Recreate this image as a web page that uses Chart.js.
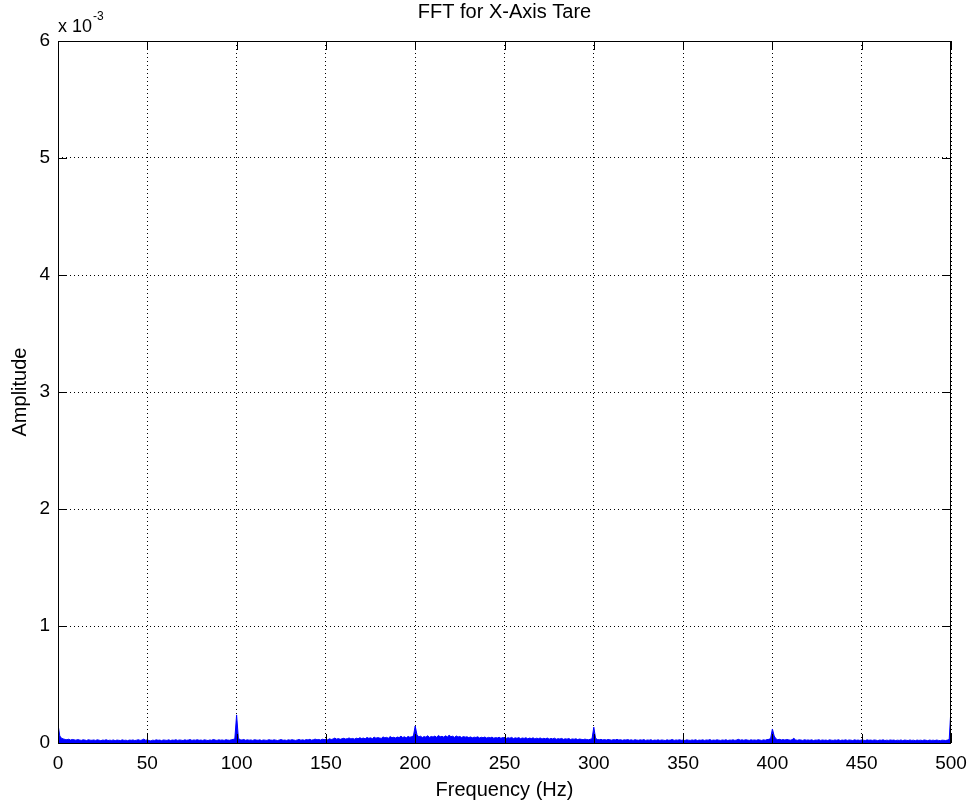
<!DOCTYPE html>
<html>
<head>
<meta charset="utf-8">
<script src="https://cdn.jsdelivr.net/npm/chart.js@4"></script>
<style>
  body { margin: 0; background: #fff; }
  canvas { display: block; }
</style>
</head>
<body>
<canvas id="fftChart" width="972" height="805"></canvas>
<script>
// amplitude in units of 1e-3, one value per Hz from 0 to 500
const amplitude = [
  0.16, 0.06, 0.04, 0.035, 0.03, 0.028, 0.032, 0.025, 0.03, 0.027,
  0.024, 0.029, 0.026, 0.022, 0.027, 0.025, 0.021, 0.028, 0.024, 0.023,
  0.026, 0.022, 0.027, 0.024, 0.02, 0.025, 0.023, 0.028, 0.021, 0.024,
  0.022, 0.026, 0.02, 0.025, 0.023, 0.021, 0.027, 0.022, 0.024, 0.02,
  0.025, 0.023, 0.026, 0.021, 0.024, 0.028, 0.022, 0.025, 0.033, 0.024,
  0.026, 0.021, 0.018, 0.024, 0.022, 0.027, 0.023, 0.025, 0.02, 0.026,
  0.024, 0.022, 0.027, 0.021, 0.025, 0.023, 0.028, 0.022, 0.026, 0.024,
  0.021, 0.027, 0.023, 0.025, 0.029, 0.022, 0.026, 0.024, 0.028, 0.023,
  0.025, 0.022, 0.027, 0.024, 0.021, 0.026, 0.023, 0.03, 0.025, 0.022,
  0.027, 0.024, 0.026, 0.022, 0.028, 0.025, 0.023, 0.027, 0.03, 0.035,
  0.24, 0.04, 0.028, 0.025, 0.03, 0.023, 0.027, 0.024, 0.026, 0.022,
  0.028, 0.025, 0.023, 0.027, 0.021, 0.026, 0.024, 0.022, 0.028, 0.025,
  0.023, 0.027, 0.024, 0.021, 0.026, 0.029, 0.023, 0.025, 0.022, 0.027,
  0.024, 0.028, 0.025, 0.022, 0.026, 0.03, 0.024, 0.027, 0.023, 0.029,
  0.026, 0.031, 0.024, 0.028, 0.033, 0.027, 0.03, 0.025, 0.032, 0.029,
  0.031, 0.027, 0.036, 0.03, 0.034, 0.042, 0.033, 0.038, 0.031, 0.036,
  0.04, 0.034, 0.037, 0.043, 0.035, 0.039, 0.033, 0.041, 0.036, 0.045,
  0.038, 0.042, 0.036, 0.047, 0.04, 0.044, 0.037, 0.05, 0.041, 0.046,
  0.043, 0.039, 0.052, 0.044, 0.048, 0.041, 0.055, 0.045, 0.049, 0.043,
  0.051, 0.046, 0.058, 0.047, 0.053, 0.044, 0.056, 0.049, 0.054, 0.06,
  0.145, 0.07, 0.052, 0.058, 0.047, 0.055, 0.05, 0.062, 0.048, 0.056,
  0.051, 0.059, 0.049, 0.064, 0.053, 0.057, 0.05, 0.061, 0.052, 0.066,
  0.054, 0.058, 0.048, 0.06, 0.051, 0.056, 0.047, 0.055, 0.05, 0.053,
  0.046, 0.052, 0.044, 0.05, 0.047, 0.053, 0.043, 0.049, 0.045, 0.051,
  0.042, 0.048, 0.044, 0.05, 0.041, 0.046, 0.043, 0.049, 0.04, 0.047,
  0.043, 0.039, 0.045, 0.041, 0.048, 0.038, 0.044, 0.04, 0.046, 0.037,
  0.043, 0.039, 0.045, 0.036, 0.042, 0.038, 0.044, 0.035, 0.041, 0.037,
  0.043, 0.034, 0.04, 0.036, 0.042, 0.033, 0.039, 0.035, 0.041, 0.032,
  0.037, 0.034, 0.039, 0.031, 0.036, 0.033, 0.038, 0.03, 0.035, 0.032,
  0.036, 0.029, 0.034, 0.031, 0.028, 0.033, 0.03, 0.027, 0.032, 0.035,
  0.135, 0.04, 0.03, 0.027, 0.031, 0.026, 0.029, 0.025, 0.03, 0.027,
  0.024, 0.029, 0.026, 0.031, 0.025, 0.028, 0.023, 0.027, 0.025, 0.029,
  0.024, 0.027, 0.022, 0.028, 0.025, 0.023, 0.027, 0.024, 0.029, 0.022,
  0.026, 0.024, 0.028, 0.021, 0.025, 0.023, 0.027, 0.022, 0.026, 0.024,
  0.021, 0.027, 0.023, 0.025, 0.03, 0.022, 0.026, 0.024, 0.028, 0.023,
  0.025, 0.021, 0.027, 0.024, 0.022, 0.026, 0.023, 0.028, 0.021, 0.025,
  0.023, 0.027, 0.022, 0.026, 0.024, 0.029, 0.022, 0.025, 0.023, 0.027,
  0.024, 0.022, 0.026, 0.023, 0.028, 0.021, 0.025, 0.024, 0.027, 0.022,
  0.026, 0.031, 0.024, 0.027, 0.023, 0.028, 0.025, 0.022, 0.027, 0.024,
  0.026, 0.023, 0.028, 0.025, 0.022, 0.027, 0.024, 0.029, 0.031, 0.038,
  0.12, 0.06, 0.035, 0.028, 0.031, 0.026, 0.029, 0.025, 0.03, 0.027,
  0.024, 0.028, 0.04, 0.026, 0.023, 0.027, 0.025, 0.022, 0.028, 0.024,
  0.026, 0.023, 0.027, 0.021, 0.025, 0.024, 0.028, 0.022, 0.026, 0.023,
  0.025, 0.021, 0.027, 0.024, 0.022, 0.026, 0.023, 0.028, 0.021, 0.025,
  0.023, 0.027, 0.022, 0.026, 0.024, 0.021, 0.027, 0.023, 0.025, 0.022,
  0.026, 0.024, 0.021, 0.027, 0.023, 0.025, 0.022, 0.026, 0.024, 0.02,
  0.025, 0.023, 0.027, 0.021, 0.024, 0.022, 0.026, 0.023, 0.025, 0.021,
  0.024, 0.022, 0.026, 0.02, 0.025, 0.023, 0.021, 0.026, 0.022, 0.024,
  0.02, 0.025, 0.022, 0.024, 0.021, 0.026, 0.023, 0.02, 0.025, 0.022,
  0.024, 0.021, 0.025, 0.022, 0.02, 0.024, 0.023, 0.021, 0.025, 0.03,
  0.30
];
const freqStart = 0;   // Hz
const freqStep = 1;    // Hz per sample
const xTicks = [0, 50, 100, 150, 200, 250, 300, 350, 400, 450, 500];
const yTicks = [0, 1, 2, 3, 4, 5, 6];

const FONT = "'Liberation Sans', Arial, Helvetica, sans-serif";

const points = amplitude.map((a, i) => ({ x: freqStart + i * freqStep, y: a }));

// matlab style box, inward ticks and the text outside the axes
const matlabFrame = {
    id: "matlabFrame",
    beforeDraw(chart) {
        const ctx = chart.ctx;
        ctx.save();
        ctx.fillStyle = "#fff";
        ctx.fillRect(0, 0, chart.width, chart.height);
        ctx.restore();
    },
    afterDraw(chart) {
        const ctx = chart.ctx;
        const a = chart.chartArea;
        const xs = chart.scales.x;
        const ys = chart.scales.y;
        ctx.save();
        ctx.strokeStyle = "#000";
        ctx.lineWidth = 1;
        ctx.beginPath();
        xTicks.forEach(t => {
            const px = Math.round(xs.getPixelForValue(t)) + 0.5;
            ctx.moveTo(px, a.bottom); ctx.lineTo(px, a.bottom - 9);
            ctx.moveTo(px, a.top); ctx.lineTo(px, a.top + 9);
        });
        yTicks.forEach(t => {
            const py = Math.round(ys.getPixelForValue(t)) + 0.5;
            ctx.moveTo(a.left, py); ctx.lineTo(a.left + 9, py);
            ctx.moveTo(a.right, py); ctx.lineTo(a.right - 9, py);
        });
        ctx.stroke();
        ctx.strokeRect(Math.round(a.left) + 0.5, Math.round(a.top) + 0.5,
            Math.round(a.right - a.left) - 1, Math.round(a.bottom - a.top));

        ctx.fillStyle = "#000";
        ctx.textAlign = "center";
        ctx.textBaseline = "middle";
        ctx.font = "20px " + FONT;
        ctx.fillText("FFT for X-Axis Tare", (a.left + a.right) / 2, 12);

        ctx.fillText("Frequency (Hz)", (a.left + a.right) / 2, 790);

        ctx.save();
        ctx.translate(20, (a.top + a.bottom) / 2);
        ctx.rotate(-Math.PI / 2);
        ctx.fillText("Amplitude", 0, 0);
        ctx.restore();

        ctx.textAlign = "left";
        ctx.textBaseline = "alphabetic";
        ctx.font = "18px " + FONT;
        ctx.fillText("x 10", 58, 32);
        ctx.font = "12px " + FONT;
        ctx.fillText("-3", 93, 20);
        ctx.restore();
    }
};

new Chart(document.getElementById("fftChart"), {
    type: "line",
    data: {
        datasets: [{
            data: points,
            borderColor: "#0000ff",
            backgroundColor: "#0000ff",
            borderWidth: 1,
            pointRadius: 0,
            fill: "origin",
            tension: 0
        }]
    },
    options: {
        responsive: false,
        animation: false,
        events: [],
        layout: { padding: { top: 41, right: 21, left: 0, bottom: 0 } },
        plugins: {
            legend: { display: false },
            tooltip: { enabled: false }
        },
        scales: {
            x: {
                type: "linear",
                min: 0,
                max: 500,
                afterFit: s => { s.height = 62; s.paddingLeft = 0; s.paddingRight = 0; },
                afterBuildTicks: s => { s.ticks = xTicks.map(v => ({ value: v })); },
                grid: { color: "#000", lineWidth: 1, drawTicks: false },
                border: { display: false, dash: [1, 3] },
                ticks: { color: "#000", font: { family: FONT, size: 19 }, padding: 9, maxRotation: 0 }
            },
            y: {
                min: 0,
                max: 6,
                afterFit: s => { s.width = 58; s.paddingTop = 0; s.paddingBottom = 0; },
                afterBuildTicks: s => { s.ticks = yTicks.map(v => ({ value: v })); },
                grid: { color: "#000", lineWidth: 1, drawTicks: false },
                border: { display: false, dash: [1, 3] },
                ticks: { color: "#000", font: { family: FONT, size: 19 }, padding: 8 }
            }
        }
    },
    plugins: [matlabFrame]
});
</script>
</body>
</html>
